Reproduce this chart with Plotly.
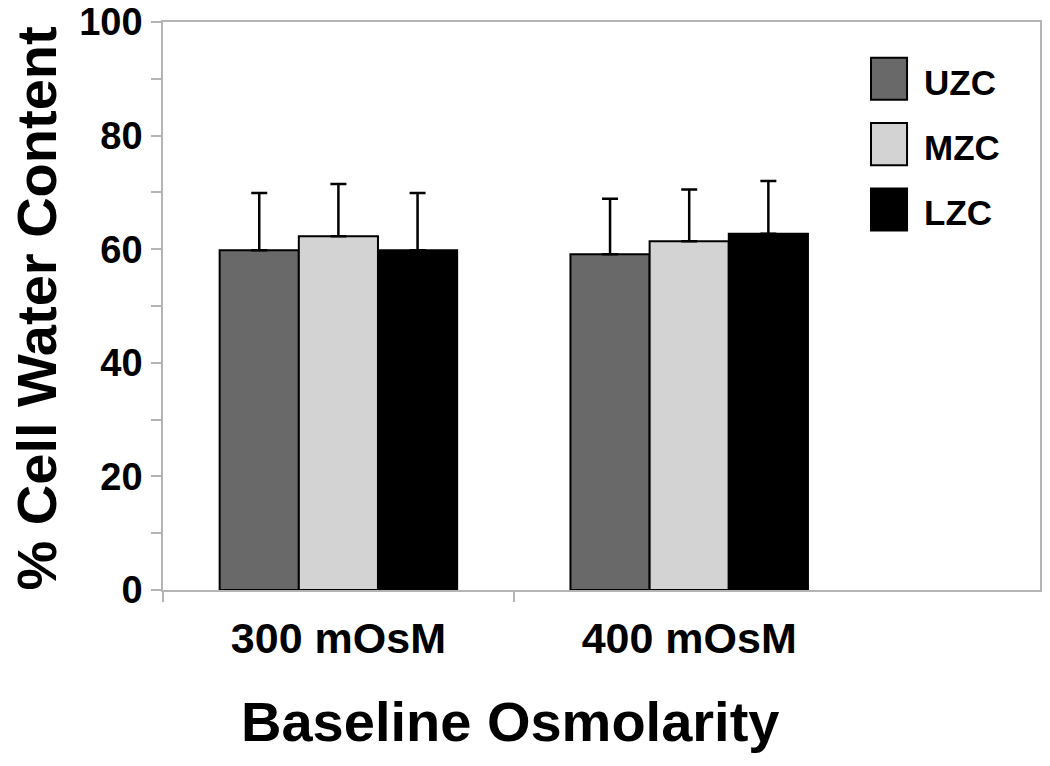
import plotly.graph_objects as go

categories = ["300 mOsM", "400 mOsM"]
series_names = ["UZC", "MZC", "LZC"]
uzc_values = [59.8, 59.1]
mzc_values = [62.3, 61.4]
lzc_values = [59.8, 62.7]
uzc_errors = [10.1, 9.8]
mzc_errors = [9.2, 9.1]
lzc_errors = [10.1, 9.3]
y_tick_values = [0, 20, 40, 60, 80, 100]

colors = ["#696969", "#d3d3d3", "#000000"]
FONT = "Liberation Sans, Arial, sans-serif"

fig = go.Figure()
x_pos = list(range(len(categories)))
for name, vals, errs, col in zip(series_names,
                                 [uzc_values, mzc_values, lzc_values],
                                 [uzc_errors, mzc_errors, lzc_errors],
                                 colors):
    fig.add_trace(go.Bar(
        x=x_pos, y=vals, name=name,
        marker=dict(color=col, line=dict(color="black", width=2)),
        error_y=dict(type="data", array=errs, symmetric=False,
                     arrayminus=[0] * len(errs),
                     color="black", thickness=2.5, width=8),
        showlegend=False,
    ))

axis_gray = "#b4b4b4"
fig.update_layout(
    width=1050, height=766,
    margin=dict(l=163, r=10, t=22, b=176),
    plot_bgcolor="white", paper_bgcolor="white",
    barmode="group", bargap=0.323, bargroupgap=0,
    font=dict(family=FONT, color="black"),
    xaxis=dict(
        range=[-0.5, 2.0], automargin=False,
        tickvals=x_pos, ticktext=categories, ticks="",
        tickfont=dict(size=43, family=FONT, weight="bold"),
        ticklabelstandoff=10,
        showline=True, linecolor=axis_gray, linewidth=1.5, mirror=True,
        showgrid=False, zeroline=False,
        minor=dict(tickvals=[-0.5, 0.5], ticks="outside", ticklen=10,
                   tickcolor=axis_gray, tickwidth=1.5, showgrid=False),
    ),
    yaxis=dict(
        range=[0, 100], automargin=False,
        tickvals=y_tick_values, ticks="outside", ticklen=10,
        tickcolor=axis_gray, tickwidth=1.5,
        tickfont=dict(size=38, family=FONT, weight="bold"),
        ticklabelstandoff=1, ticklabeloverflow="allow",
        showline=True, linecolor=axis_gray, linewidth=1.5, mirror=True,
        showgrid=False, zeroline=False,
        minor=dict(dtick=10, ticks="outside", ticklen=10,
                   tickcolor=axis_gray, tickwidth=1.5, showgrid=False),
    ),
)

# Axis titles
fig.add_annotation(xref="paper", yref="paper", x=0.3957, y=-0.2316,
                   text="<b>Baseline Osmolarity</b>", showarrow=False,
                   xanchor="center", yanchor="middle",
                   font=dict(size=56, family=FONT, color="black"))
fig.add_annotation(xref="paper", yref="paper", x=-0.144, y=0.495,
                   text="<b>% Cell Water Content</b>", showarrow=False,
                   textangle=-90, xanchor="center", yanchor="middle",
                   font=dict(size=56, family=FONT, color="black"))

# Custom legend (decoration) in paper coordinates
legend_rows_y = [0.9, 0.785, 0.67]
for i, (name, col) in enumerate(zip(series_names, colors)):
    yc = legend_rows_y[i]
    fig.add_shape(type="rect", xref="paper", yref="paper",
                  x0=0.8073, x1=0.8484, y0=yc - 0.037, y1=yc + 0.037,
                  fillcolor=col, line=dict(color="black", width=2))
    fig.add_annotation(xref="paper", yref="paper", x=0.866, y=yc - 0.006,
                       text=f"<b>{name}</b>", showarrow=False,
                       xanchor="left", yanchor="middle",
                       font=dict(size=35, family=FONT, color="black"))

fig.write_html("out.html",
               config={"displayModeBar": False},
               post_script="document.body.style.margin='0';")
